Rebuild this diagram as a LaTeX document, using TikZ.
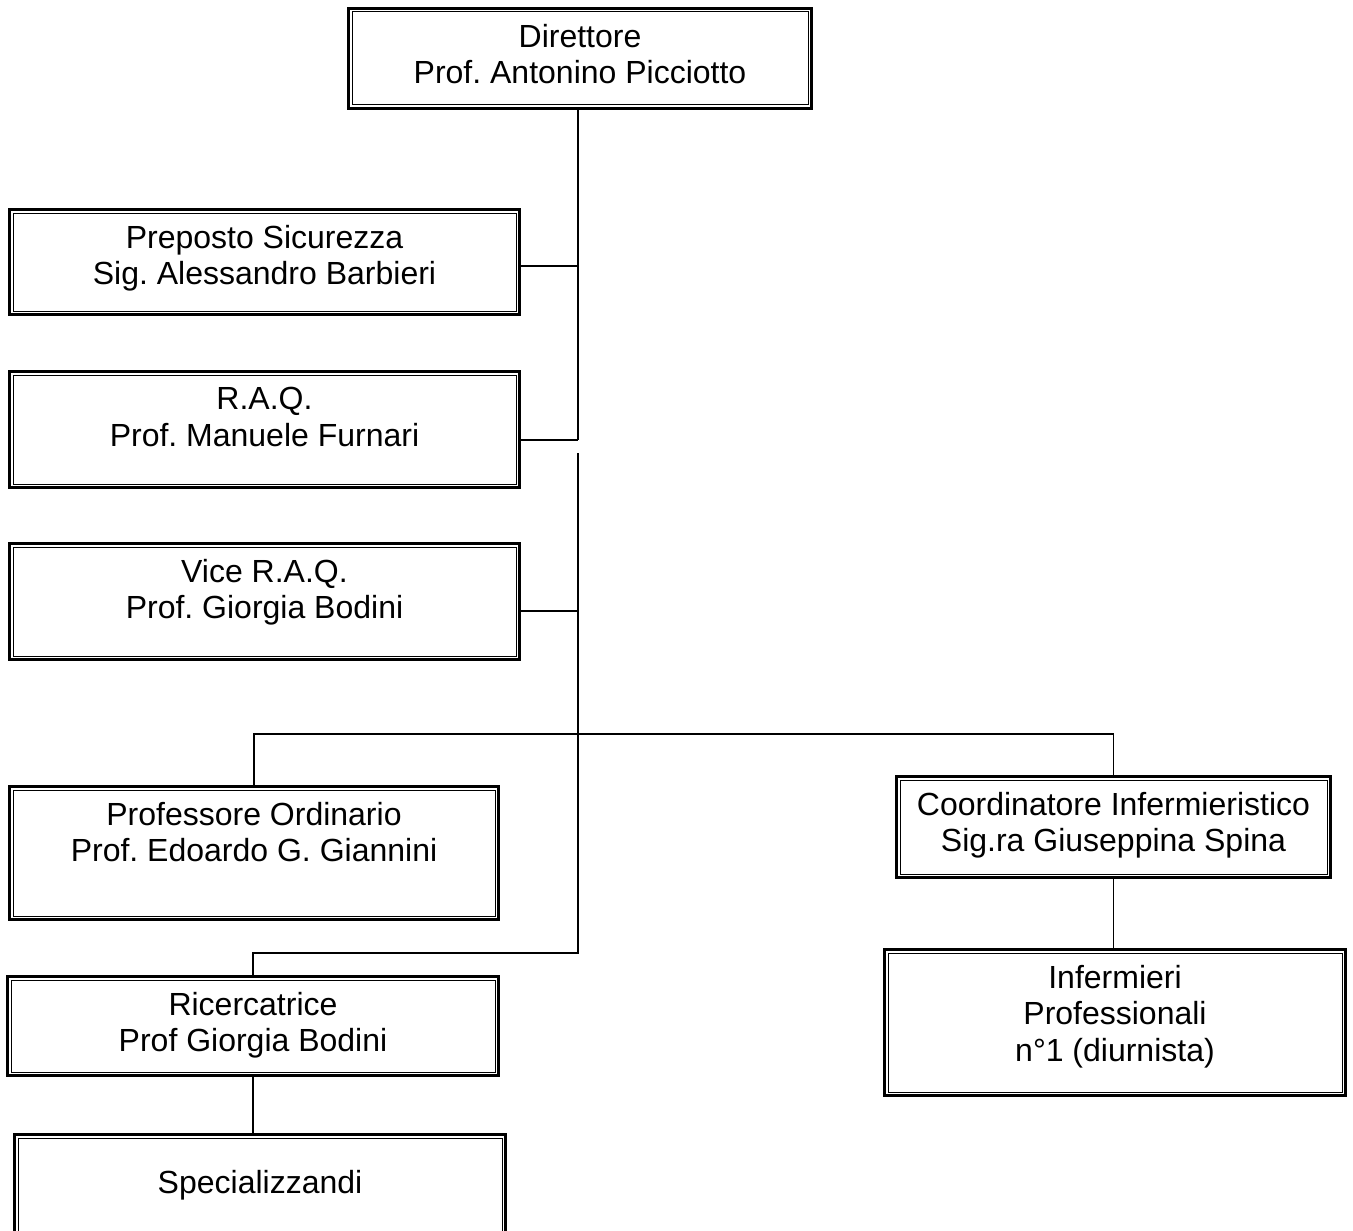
\documentclass[tikz,border=0pt]{standalone}
\usepackage{fontspec}
\setmainfont{Liberation Sans}
\frenchspacing
\usetikzlibrary{fit}
\tikzset{
  obox/.style={draw, line width=3.2pt, inner sep=0pt},
  ibox/.style={draw, line width=1pt},
  lbl/.style={anchor=north, inner sep=0pt, align=center, font=\fontsize{32}{36.5}\selectfont\frenchspacing},
  conn/.style={line width=1.8pt},
}
\newcommand{\orgbox}[7][17]{%
  \node[obox, fit={(#3+1.6,#4+1.6) (#5-1.6,#6-1.6)}] (#2) {};
  \draw[ibox] ([xshift=5pt,yshift=-5pt]#2.north west) rectangle ([xshift=-5pt,yshift=5pt]#2.south east);
  \node[lbl] (#2-t) at ([yshift=-#1pt]#2.north) {#7};
}
\begin{document}
\begin{tikzpicture}[x=1pt,y=-1pt]
\useasboundingbox (0,0) rectangle (1353,1231);
\clip (0,0) rectangle (1353,1231);
\fill[white] (0,0) rectangle (1353,1231);

\orgbox{dir}{347}{7}{813}{110}{Direttore\\Prof. Antonino Picciotto}
\orgbox{pre}{8}{208}{521}{316}{Preposto Sicurezza\\Sig. Alessandro Barbieri}
\orgbox{raq}{8}{370}{521}{489}{R.A.Q.\\Prof. Manuele Furnari}
\orgbox{vice}{8}{542}{521}{661}{Vice R.A.Q.\\Prof. Giorgia Bodini}
\orgbox{prof}{8}{785}{500}{921}{Professore Ordinario\\Prof. Edoardo G. Giannini}
\orgbox{ric}{6}{975}{500}{1077}{Ricercatrice\\Prof Giorgia Bodini}
\orgbox[37]{spec}{13}{1133}{507}{1290}{Specializzandi}
\orgbox{coord}{895}{775}{1332}{879}{Coordinatore Infermieristico\\Sig.ra Giuseppina Spina}
\orgbox{inf}{883}{948}{1347}{1097}{Infermieri\\Professionali\\n°1 (diurnista)}

\coordinate (j1) at (578,266);
\coordinate (j2) at (578,440);
\coordinate (j3a) at (578,453);
\coordinate (j3) at (578,611);
\coordinate (bar) at (578,734);
\coordinate (j4) at (578,953);
\coordinate (j5) at (253,953);

\draw[conn] (dir.south -| j2) -- (j2);
\draw[conn] (j1 -| pre.east) -- (j1);
\draw[conn] (j2 -| raq.east) -- (j2);
\draw[conn] (j3 -| vice.east) -- (j3);
\draw[conn] (j3a) -- (j4) -- (j5) -- (ric.north -| j5);
\draw[conn] (prof.north) |- (bar) -| (coord.north);
\draw[conn] (ric.south) -- (ric.south |- spec.north);
\draw[conn] (coord.south) -- (coord.south |- inf.north);
\end{tikzpicture}
\end{document}
